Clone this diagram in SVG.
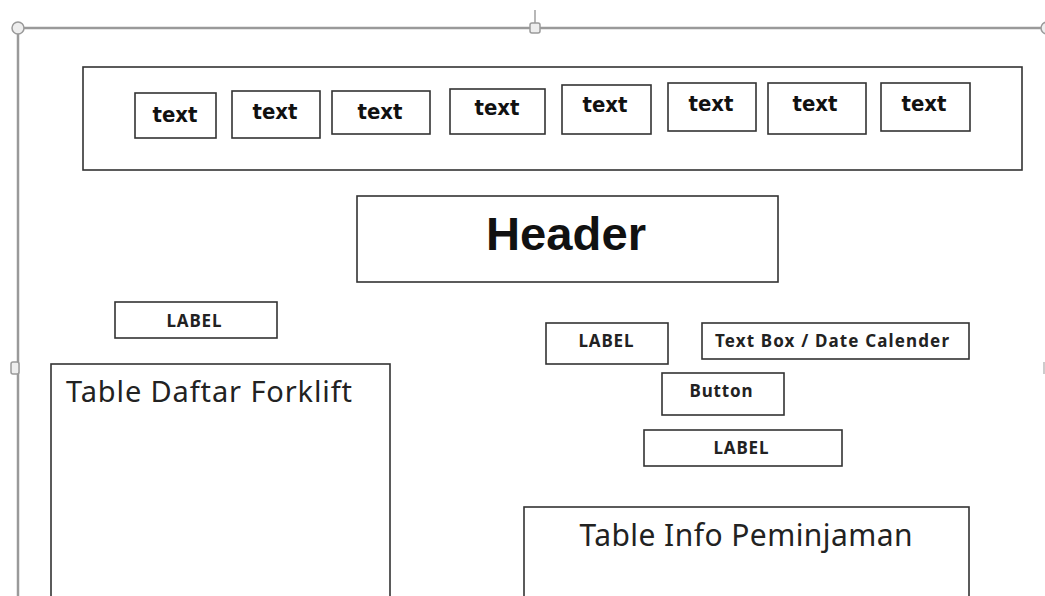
<svg xmlns="http://www.w3.org/2000/svg" width="1045" height="596" viewBox="0 0 1045 596">
<style>
.box{fill:#fff;stroke:#333;stroke-width:1.6}
.frame{fill:none;stroke:#9a9a9a;stroke-width:2.5}
.handle{fill:#eee;stroke:#9a9a9a;stroke-width:1.5}
.t{font-family:"Noto Sans","Open Sans",sans-serif;font-weight:bold;fill:#222;text-anchor:middle}
.d{font-family:"DejaVu Sans","Noto Sans",sans-serif;font-weight:bold;fill:#111;text-anchor:middle}
.s{font-size:22px}
.sm{font-size:17px}
.big{font-family:"Noto Sans","Open Sans",sans-serif;font-size:29px;fill:#222}
</style>
<g id="frame">
<line class="frame" x1="18" y1="28" x2="1045" y2="28"/>
<line class="frame" x1="18" y1="28" x2="18" y2="596"/>
<line x1="535" y1="10" x2="535" y2="23" stroke="#888" stroke-width="1.2"/>
<circle class="handle" cx="18" cy="28" r="6"/>
<rect class="handle" x="530" y="23" width="10" height="10" rx="2"/>
<rect class="handle" x="11" y="362" width="8" height="12" rx="2"/>
<circle class="handle" cx="1047" cy="28" r="6"/>
<rect x="1043" y="362" width="4" height="12" fill="#ccc"/>
</g>
<g id="menu">
<rect class="box" x="83" y="67" width="939" height="103"/>
</g>
<g id="m1"><rect class="box" x="135" y="93" width="81" height="45"/><text class="d s" x="175" y="122" textLength="45" lengthAdjust="spacingAndGlyphs">text</text></g>
<g id="m2"><rect class="box" x="232" y="91" width="88" height="47"/><text class="d s" x="275" y="119" textLength="45" lengthAdjust="spacingAndGlyphs">text</text></g>
<g id="m3"><rect class="box" x="332" y="91" width="98" height="43"/><text class="d s" x="380" y="119" textLength="45" lengthAdjust="spacingAndGlyphs">text</text></g>
<g id="m4"><rect class="box" x="450" y="89" width="95" height="45"/><text class="d s" x="497" y="115" textLength="45" lengthAdjust="spacingAndGlyphs">text</text></g>
<g id="m5"><rect class="box" x="562" y="85" width="89" height="49"/><text class="d s" x="605" y="112" textLength="45" lengthAdjust="spacingAndGlyphs">text</text></g>
<g id="m6"><rect class="box" x="668" y="83" width="88" height="48"/><text class="d s" x="711" y="111" textLength="45" lengthAdjust="spacingAndGlyphs">text</text></g>
<g id="m7"><rect class="box" x="768" y="83" width="98" height="51"/><text class="d s" x="815" y="111" textLength="45" lengthAdjust="spacingAndGlyphs">text</text></g>
<g id="m8"><rect class="box" x="881" y="83" width="89" height="48"/><text class="d s" x="924" y="111" textLength="45" lengthAdjust="spacingAndGlyphs">text</text></g>
<g id="header"><rect class="box" x="357" y="196" width="421" height="86"/><text class="d" style="font-family:'Liberation Sans',Arial,sans-serif;font-size:46px" x="566" y="250" textLength="160" lengthAdjust="spacingAndGlyphs">Header</text></g>
<g id="label1"><rect class="box" x="115" y="302" width="162" height="36"/><text class="t sm" x="194" y="327" textLength="55">LABEL</text></g>
<g id="table1"><rect class="box" x="51" y="364" width="339" height="240"/><text class="big" x="66" y="402" textLength="286">Table Daftar Forklift</text></g>
<g id="label2"><rect class="box" x="546" y="323" width="122" height="41"/><text class="t sm" x="606" y="347" textLength="55">LABEL</text></g>
<g id="textbox"><rect class="box" x="702" y="323" width="267" height="36"/><text class="t sm" x="832" y="347" textLength="234">Text Box / Date Calender</text></g>
<g id="button"><rect class="box" x="662" y="373" width="122" height="42"/><text class="t sm" x="721" y="397" textLength="63">Button</text></g>
<g id="label3"><rect class="box" x="644" y="430" width="198" height="36"/><text class="t sm" x="741" y="454" textLength="55">LABEL</text></g>
<g id="table2"><rect class="box" x="524" y="507" width="445" height="100"/><text class="big" style="text-anchor:middle;font-size:30px" x="746" y="546" textLength="333">Table Info Peminjaman</text></g>
<g id="connectors"/>
</svg>
